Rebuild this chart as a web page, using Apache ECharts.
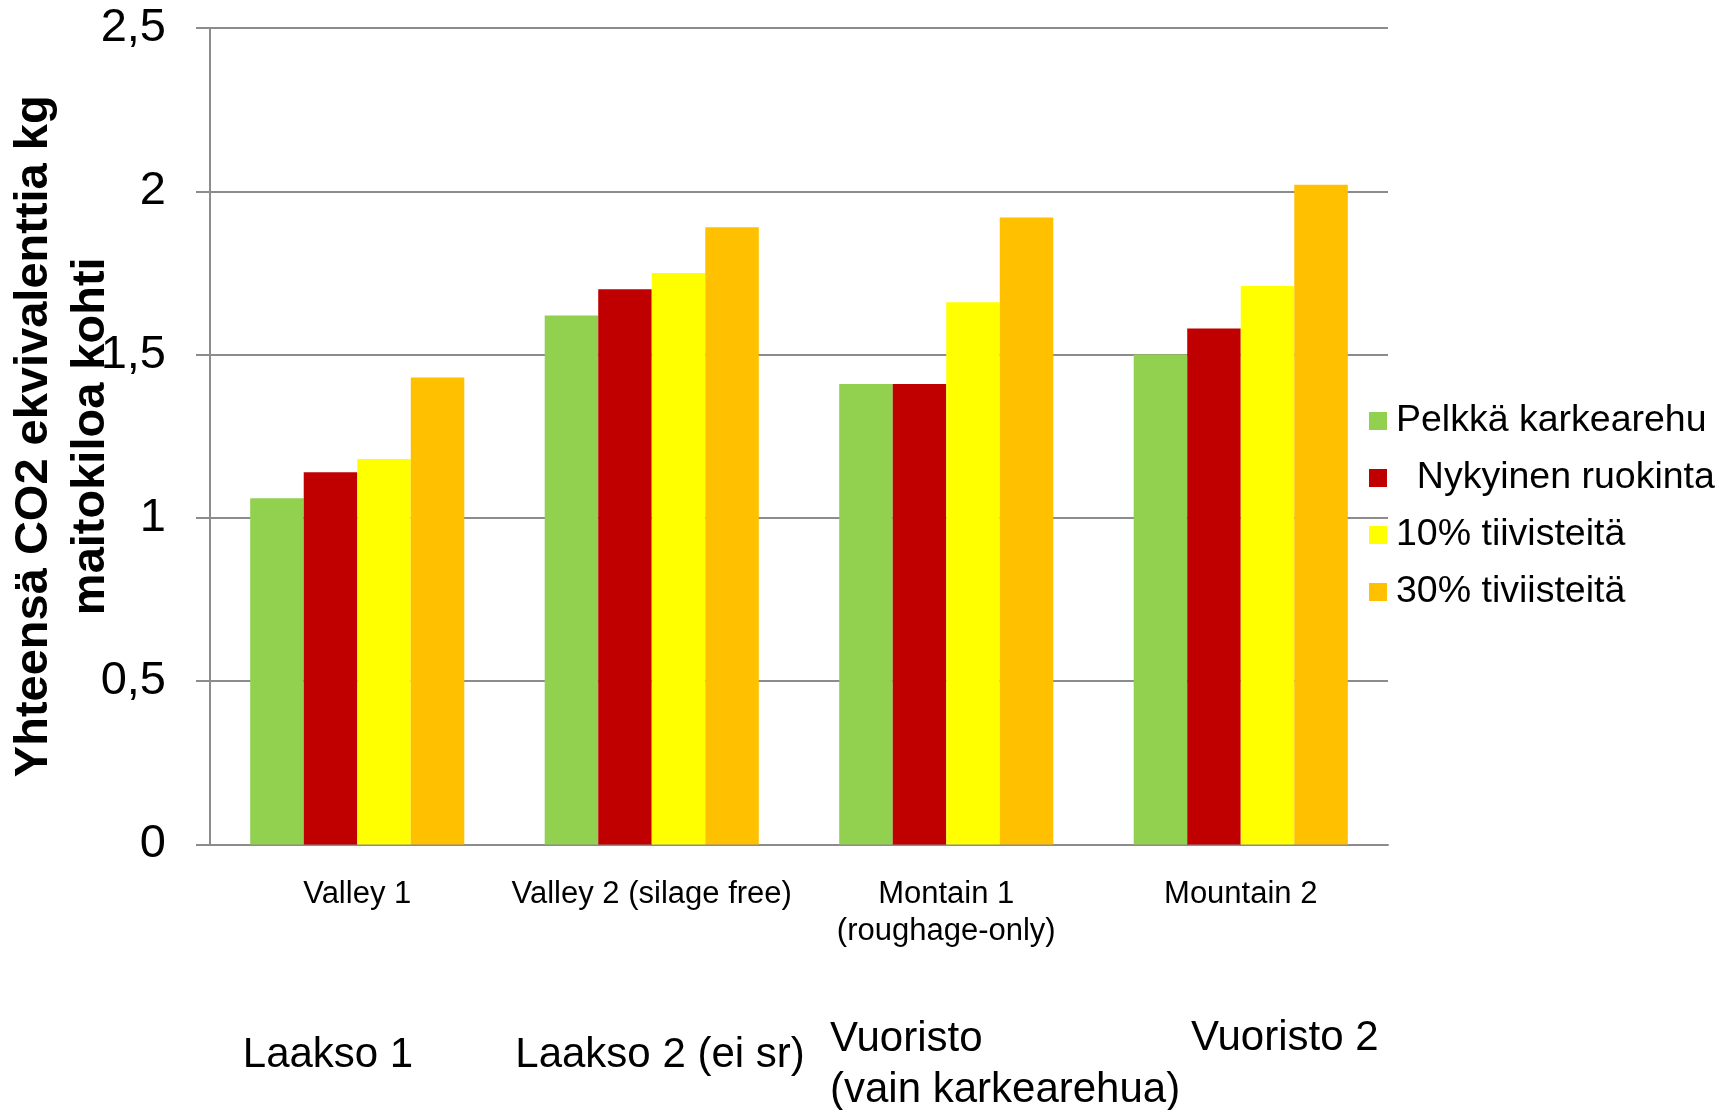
<!DOCTYPE html>
<html>
  <head>
    <meta charset="utf-8" />
    <title>CO2 ekvivalentti per maitokilo</title>
    <script src="https://cdn.jsdelivr.net/npm/echarts@6.0.0/dist/echarts.min.js"></script>
    <style>
      body { margin: 0; background: #fff; }
    </style>
  </head>
  <body>
    <div id="main" style="width: 1725px; height: 1110px"></div>
    <script type="text/javascript">
      // data
      var categories = ["Valley 1", "Valley 2 (silage free)", "Montain 1\n(roughage-only)", "Mountain 2"];
      var finnishLabels = ["Laakso 1", "Laakso 2 (ei sr)", "Vuoristo\n(vain karkearehua)", "Vuoristo 2"];
      var seriesNames = ["Pelkkä karkearehu", "  Nykyinen ruokinta", "10% tiivisteitä", "30% tiviisteitä"];
      var pelkka = [1.06, 1.62, 1.41, 1.5];
      var nykyinen = [1.14, 1.7, 1.41, 1.58];
      var tiiv10 = [1.18, 1.75, 1.66, 1.71];
      var tiiv30 = [1.43, 1.89, 1.92, 2.02];
      var yTicks = [0, 0.5, 1, 1.5, 2, 2.5];

      var colors = ["#92D050", "#C00000", "#FFFF00", "#FFC000"];
      var font = "Liberation Sans, Arial, sans-serif";
      var gray = "#8c8c8c";

      var myChart = echarts.init(document.getElementById("main"));

      var values = [pelkka, nykyinen, tiiv10, tiiv30];
      var series = values.map(function (v, i) {
        return {
          name: seriesNames[i],
          type: "bar",
          data: v,
          barGap: "0%",
          barCategoryGap: "27.3%",
          itemStyle: { color: colors[i] },
          emphasis: { disabled: true }
        };
      });

      // manually placed Finnish captions under the axis
      var finPos = [
        { x: 328, y: 1055, align: "center" },
        { x: 660, y: 1055, align: "center" },
        { x: 830, y: 1065, align: "left" },
        { x: 1191, y: 1038, align: "left" }
      ];
      var graphics = finnishLabels.map(function (t, i) {
        return {
          type: "text",
          x: finPos[i].x,
          y: finPos[i].y,
          style: {
            text: t,
            font: "42px " + font,
            fill: "#000",
            align: finPos[i].align,
            verticalAlign: "middle",
            lineHeight: 51
          }
        };
      });

      var option = {
        animation: false,
        textStyle: { fontFamily: font },
        grid: {
          left: 210, top: 28, right: 337, bottom: 265.5,
          containLabel: false, outerBoundsMode: "none"
        },
        legend: {
          orient: "vertical",
          left: 1369,
          top: 402,
          padding: 0,
          itemWidth: 18,
          itemHeight: 18,
          itemGap: 19,
          icon: "rect",
          textStyle: { fontSize: 37.5, color: "#000", lineHeight: 36, padding: [0, 0, 0, 4] },
          data: seriesNames
        },
        xAxis: {
          type: "category",
          data: categories,
          axisLine: { lineStyle: { color: gray, width: 2 } },
          axisTick: { length: 9, lineStyle: { color: gray, width: 2 } },
          axisLabel: { fontSize: 31, color: "#000", lineHeight: 37, margin: 31, interval: 0 }
        },
        yAxis: {
          type: "value",
          min: yTicks[0],
          max: yTicks[yTicks.length - 1],
          interval: 0.5,
          name: "Yhteensä CO2 ekvivalenttia kg\nmaitokiloa kohti",
          nameLocation: "middle",
          nameGap: 90,
          nameMoveOverlap: false,
          nameTextStyle: { fontSize: 47, fontWeight: "bold", color: "#000", lineHeight: 57 },
          axisLine: { show: true, lineStyle: { color: gray, width: 2 } },
          axisTick: { show: true, length: 14, lineStyle: { color: gray, width: 2 } },
          splitLine: { lineStyle: { color: gray, width: 2 } },
          axisLabel: {
            fontSize: 47,
            color: "#000",
            margin: 44,
            formatter: function (v) { return String(v).replace(".", ","); }
          }
        },
        series: series,
        graphic: graphics
      };

      myChart.setOption(option);
    </script>
  </body>
</html>
